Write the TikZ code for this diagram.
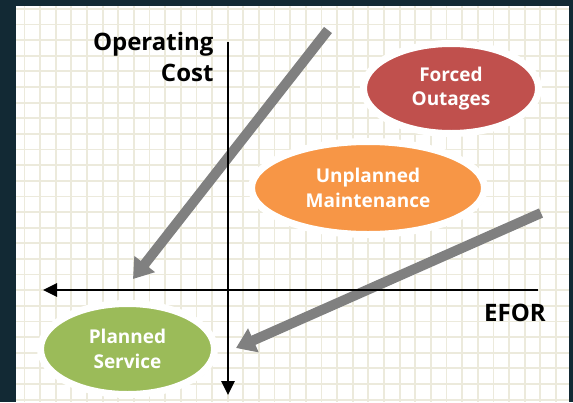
\documentclass[tikz,border=0pt]{standalone}
\usepackage{fontspec}
\setsansfont{Open Sans}
\usetikzlibrary{arrows.meta,shapes.geometric,shadows}

\definecolor{frame}{RGB}{18,41,52}
\definecolor{paper}{RGB}{255,255,255}
\definecolor{gridc}{RGB}{236,234,220}
\definecolor{trendgray}{RGB}{128,128,128}
\definecolor{forcedred}{RGB}{192,80,77}
\definecolor{unplorange}{RGB}{247,150,70}
\definecolor{plangreen}{RGB}{155,187,89}

\tikzset{
  gridline/.style={draw=gridc,line width=1.8pt},
  axis/.style={line width=2.8pt,-{Triangle[length=14pt,width=13pt]}},
  trend/.style={draw=trendgray,line width=10pt,-{Triangle[length=19pt,width=25pt]}},
  bubble/.style={ellipse,draw=white,line width=7pt,inner sep=0pt,text=white,
    align=center,font=\sffamily\bfseries\fontsize{19}{24.5}\selectfont,
    drop shadow={opacity=0.3,shadow xshift=2pt,shadow yshift=-2pt}},
  axislabel/.style={font=\sffamily\bfseries\fontsize{24}{31}\selectfont}
}

\begin{document}
\begin{tikzpicture}[x=1pt,y=-1pt]
    \useasboundingbox (0,0) rectangle (573,402);
    \fill[frame] (0,0) rectangle (573,402);
    \fill[paper] (16,6) rectangle (569,402);
    % squared paper
    \begin{scope}
      \clip (16,6) rectangle (569,402);
      \foreach \i in {0,...,35}
        \draw[gridline] (24.5+15.63*\i,6) -- (24.5+15.63*\i,402);
      \foreach \j in {-1,...,25}
        \draw[gridline] (16,24.5+15.63*\j) -- (569,24.5+15.63*\j);
    \end{scope}
    % trend arrows
    \coordinate (upstart) at (328,30);
    \coordinate (upend) at (133,279);
    \coordinate (lowstart) at (541,213);
    \coordinate (lowend) at (236,348);
    \draw[trend] (upstart) -- (upend);
    \draw[trend] (lowstart) -- (lowend);
    % axes
    \coordinate (origin) at (228,290);
    \coordinate (ytop) at (228,42);
    \coordinate (ybot) at (228,395);
    \coordinate (xright) at (538,290);
    \coordinate (xleft) at (43,290);
    \draw[axis] (ytop) -- (ybot);
    \draw[axis] (xright) -- (xleft);
    \node[axislabel,anchor=east,align=right] (cost) at (217,57) {Operating\\Cost};
    \node[axislabel] (efor) at (515,313) {EFOR};
    % maintenance classes
    \node[bubble,fill=forcedred,minimum width=175pt,minimum height=90pt]
      (forced) at (451,88.5) {Forced\\Outages};
    \node[bubble,fill=unplorange,minimum width=233pt,minimum height=93pt]
      (unplanned) at (368,188) {Unplanned\\Maintenance};
    \node[bubble,fill=plangreen,minimum width=174pt,minimum height=91pt]
      (planned) at (127.5,349) {Planned\\Service};
  \end{tikzpicture}
\end{document}
